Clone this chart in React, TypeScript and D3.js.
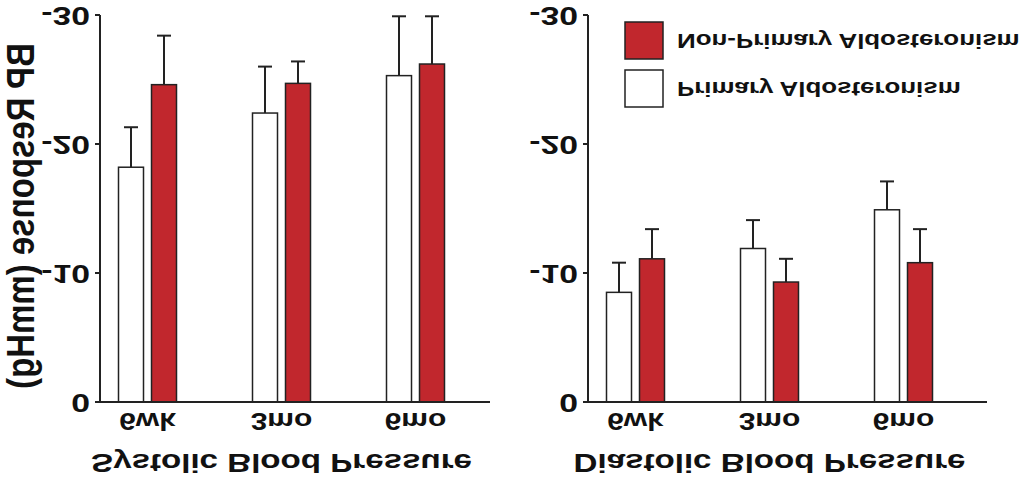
import React from "react";
import * as d3 from "d3";

const categories = ["6wk", "3mo", "6mo"];
const yTicks = [0, -10, -20, -30];

const sysPA = [-18.2, -22.4, -25.3];
const sysPAErr = [3.1, 3.6, 4.6];
const sysNPA = [-24.6, -24.7, -26.2];
const sysNPAErr = [3.8, 1.7, 3.7];

const diaPA = [-8.5, -11.9, -14.9];
const diaPAErr = [2.3, 2.2, 2.2];
const diaNPA = [-11.1, -9.3, -10.8];
const diaNPAErr = [2.3, 1.8, 2.6];

const seriesNames = ["Non-Primary Aldosteronism", "Primary Aldosteronism"];

const RED = "#c1272d";
const INK = "#222";
const FONT = "'Liberation Sans', Arial, sans-serif";
const SX = 1.25;

const y = d3.scaleLinear().domain([0, -30]).range([402, 15]);

function FText({ x, y: yy, size, anchor = "middle", children, rotate = 0, sx = SX }: any) {
  return (
    <text
      transform={`translate(${x},${yy}) scale(${sx},-1)${rotate ? ` rotate(${rotate})` : ""}`}
      textAnchor={anchor}
      dominantBaseline="central"
      fontFamily={FONT}
      fontWeight="bold"
      fontSize={size}
      fill="#111"
    >
      {children}
    </text>
  );
}

function Panel({ axisX, axisEnd, title, pa, paErr, npa, npaErr }: any) {
  const x = d3.scalePoint().domain(categories).range([axisX + 47.5, axisX + 315.5]);
  const bw = 25;
  const gap = 4;
  const bars: any[] = [];
  categories.forEach((c, i) => {
    const cx = x(c)!;
    const items = [
      { x0: cx - gap - bw, v: pa[i], e: paErr[i], fill: "#fff" },
      { x0: cx + gap, v: npa[i], e: npaErr[i], fill: RED },
    ];
    items.forEach((b, j) => {
      const top = y(b.v);
      const errTop = y(b.v - b.e);
      const mid = b.x0 + bw / 2;
      bars.push(
        <g key={`${c}-${j}`}>
          <line x1={mid} x2={mid} y1={top} y2={errTop} stroke={INK} strokeWidth={2} />
          <line x1={mid - 7} x2={mid + 7} y1={errTop} y2={errTop} stroke={INK} strokeWidth={2} />
          <rect x={b.x0} y={top} width={bw} height={y(0) - top} fill={b.fill} stroke={INK} strokeWidth={1.5} />
        </g>
      );
    });
  });
  return (
    <g>
      {bars}
      <line x1={axisX} x2={axisX} y1={y(0)} y2={y(-30)} stroke={INK} strokeWidth={2} />
      <line x1={axisX - 5} x2={axisEnd} y1={y(0)} y2={y(0)} stroke={INK} strokeWidth={2} />
      {yTicks.map((t) => (
        <g key={t}>
          <line x1={axisX - 5} x2={axisX} y1={y(t)} y2={y(t)} stroke={INK} strokeWidth={2} />
          <FText x={axisX - 10} y={y(t) + 1} size={25} anchor="end" sx={1.35}>
            {String(t)}
          </FText>
        </g>
      ))}
      {categories.map((c) => (
        <FText key={c} x={x(c)!} y={421} size={24}>
          {c}
        </FText>
      ))}
      <FText x={x(categories[1])!} y={463} size={26.5}>
        {title}
      </FText>
    </g>
  );
}

export default function App() {
  return (
    <svg
      width={1023}
      height={484}
      style={{ position: "absolute", left: 0, top: 0, background: "#fff" }}
    >
      <rect x={0} y={0} width={1023} height={484} fill="#fff" />
      <FText x={21} y={216} size={33} rotate={-90} sx={1.15}>
        BP Response (mmHg)
      </FText>
      <Panel axisX={100} axisEnd={490} title="Systolic Blood Pressure" pa={sysPA} paErr={sysPAErr} npa={sysNPA} npaErr={sysNPAErr} />
      <Panel axisX={588} axisEnd={987} title="Diastolic Blood Pressure" pa={diaPA} paErr={diaPAErr} npa={diaNPA} npaErr={diaNPAErr} />
      <g>
        <rect x={625} y={22} width={38} height={37} fill={RED} stroke={INK} strokeWidth={1.5} />
        <rect x={625} y={70} width={38} height={37} fill="#fff" stroke={INK} strokeWidth={1.5} />
        <FText x={677} y={41} size={20.7} anchor="start">
          {seriesNames[0]}
        </FText>
        <FText x={677} y={89} size={20.7} anchor="start">
          {seriesNames[1]}
        </FText>
      </g>
    </svg>
  );
}
